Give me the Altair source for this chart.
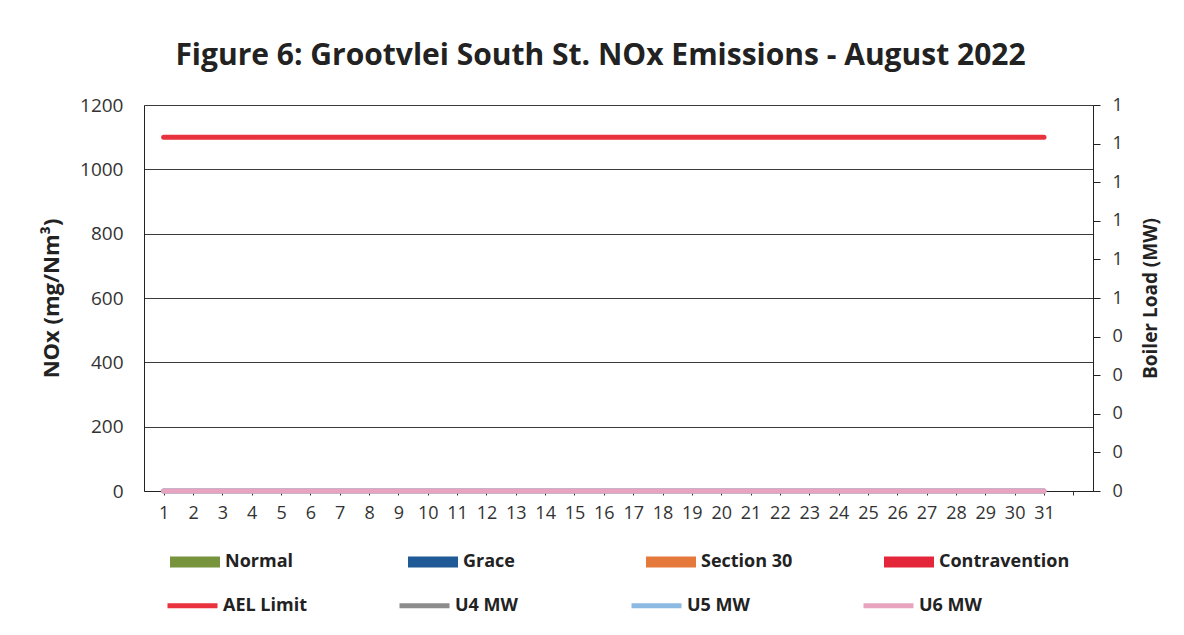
import altair as alt
import pandas as pd

# ---- data ----
days = list(range(1, 32))
nox_normal = [0] * 31          # no NOx bars drawn in August 2022
ael_limit = [1100] * 31
u4_mw = [0] * 31
u5_mw = [0] * 31
u6_mw = [0] * 31

bar_cats = ["Normal", "Grace", "Section 30", "Contravention"]
bar_colors = ["#77933c", "#1f5a96", "#e4793b", "#e3263a"]
line_cats = ["AEL Limit", "U4 MW", "U5 MW", "U6 MW"]
line_colors = ["#e8323e", "#8c8c8c", "#8dbae3", "#e8a3bf"]

left_ticks = [0, 200, 400, 600, 800, 1000, 1200]
right_ticks = [0, 0.1, 0.2, 0.3, 0.4, 0.5, 0.6, 0.7, 0.8, 0.9, 1.0]
x_ticks = list(range(1, 33))

FONT = "Open Sans"

bars_df = pd.DataFrame({"day": days, "NOx": nox_normal, "Status": ["Normal"] * 31})
ael_df = pd.DataFrame({"day": days, "value": ael_limit, "Series": ["AEL Limit"] * 31})
mw_df = pd.concat([
    pd.DataFrame({"day": days, "MW": u4_mw, "Series": ["U4 MW"] * 31, "ord": 1}),
    pd.DataFrame({"day": days, "MW": u5_mw, "Series": ["U5 MW"] * 31, "ord": 2}),
    pd.DataFrame({"day": days, "MW": u6_mw, "Series": ["U6 MW"] * 31, "ord": 3}),
])

x_enc = alt.X(
    "day:Q",
    scale=alt.Scale(domain=[0.5, 32.5], nice=False, zero=False),
    axis=alt.Axis(
        values=x_ticks, title=None, grid=False, labelAngle=0,
        labelExpr="datum.value <= 31 ? datum.value : ''",
        tickSize=4, tickColor="#333333", domainColor="#222222",
        labelFontSize=18, labelColor="#333333", labelPadding=9, labelFont=FONT,
        labelFlush=False, labelOverlap=False,
    ),
)

y_left = alt.Scale(domain=[0, 1200], nice=False)
left_axis = alt.Axis(
    values=left_ticks, format="d", title="NOx (mg/Nm³)", grid=True,
    gridColor="#3a3a3a", gridWidth=1, ticks=False, domainColor="#222222",
    labelFontSize=19, labelColor="#333333", labelPadding=21, labelFont=FONT,
    titleFont=FONT, titleFontSize=22, titleFontWeight="bold", titleColor="#222222",
    titlePadding=16,
)

bar_symbol_path = "M-1,-0.22L1,-0.22L1,0.22L-1,0.22Z"

bars = alt.Chart(bars_df).mark_bar(size=18).encode(
    x=x_enc,
    y=alt.Y("NOx:Q", scale=y_left, axis=left_axis),
    color=alt.Color(
        "Status:N",
        scale=alt.Scale(domain=bar_cats, range=bar_colors),
        legend=alt.Legend(
            title=None, orient="none", legendX=26, legendY=432, direction="horizontal",
            columns=4, gridAlign="all", columnPadding=52, padding=0,
            symbolType=bar_symbol_path, symbolSize=2500, symbolStrokeWidth=0,
            symbolOpacity=1,
            labelFont=FONT, labelFontSize=18, labelFontWeight="bold",
            labelColor="#222222", labelOffset=5, labelLimit=300,
        ),
    ),
)

ael = alt.Chart(ael_df).mark_line(strokeWidth=5, strokeCap="round").encode(
    x=x_enc,
    y=alt.Y("value:Q", scale=y_left, axis=left_axis),
    stroke=alt.Stroke(
        "Series:N",
        scale=alt.Scale(domain=line_cats, range=line_colors),
        legend=alt.Legend(
            title=None, orient="none", legendX=21, legendY=473, direction="horizontal",
            columns=4, gridAlign="all", columnPadding=82, padding=0,
            symbolType="stroke", symbolSize=2500, symbolStrokeWidth=5,
            labelFont=FONT, labelFontSize=18, labelFontWeight="bold",
            labelColor="#222222", labelOffset=3, labelLimit=300,
        ),
    ),
)

mw = alt.Chart(mw_df).mark_line(strokeWidth=5, strokeCap="round").encode(
    x=x_enc,
    y=alt.Y(
        "MW:Q",
        scale=alt.Scale(domain=[0, 1], nice=False),
        axis=alt.Axis(
            orient="right", values=right_ticks, title="Boiler Load (MW)", grid=False,
            labelExpr="datum.value < 0.45 ? '0' : '1'",
            tickSize=7, tickColor="#222222", domainColor="#222222",
            labelFontSize=18, labelColor="#333333", labelPadding=12, labelFont=FONT,
            titleFont=FONT, titleFontSize=19, titleFontWeight="bold",
            titleColor="#222222", titlePadding=38, titleAngle=270,
        ),
    ),
    stroke=alt.Stroke("Series:N", scale=alt.Scale(domain=line_cats, range=line_colors)),
    order=alt.Order("ord:Q"),
    detail="Series:N",
)

left = alt.layer(bars, ael)
chart = alt.layer(left, mw).resolve_scale(y="independent").properties(
    width=949,
    height=386,
    title=alt.TitleParams(
        "Figure 6: Grootvlei South St. NOx Emissions -  August 2022",
        font=FONT, fontSize=30, fontWeight="bold", color="#222222",
        anchor="middle", dx=-18, offset=25,
    ),
    autosize=alt.AutoSizeParams(type="none"),
    padding={"left": 136, "top": 97, "right": 83, "bottom": 136},
).configure_view(stroke=None).configure(background="white")

chart.save("out.html", embed_options={"renderer": "svg", "actions": False})
